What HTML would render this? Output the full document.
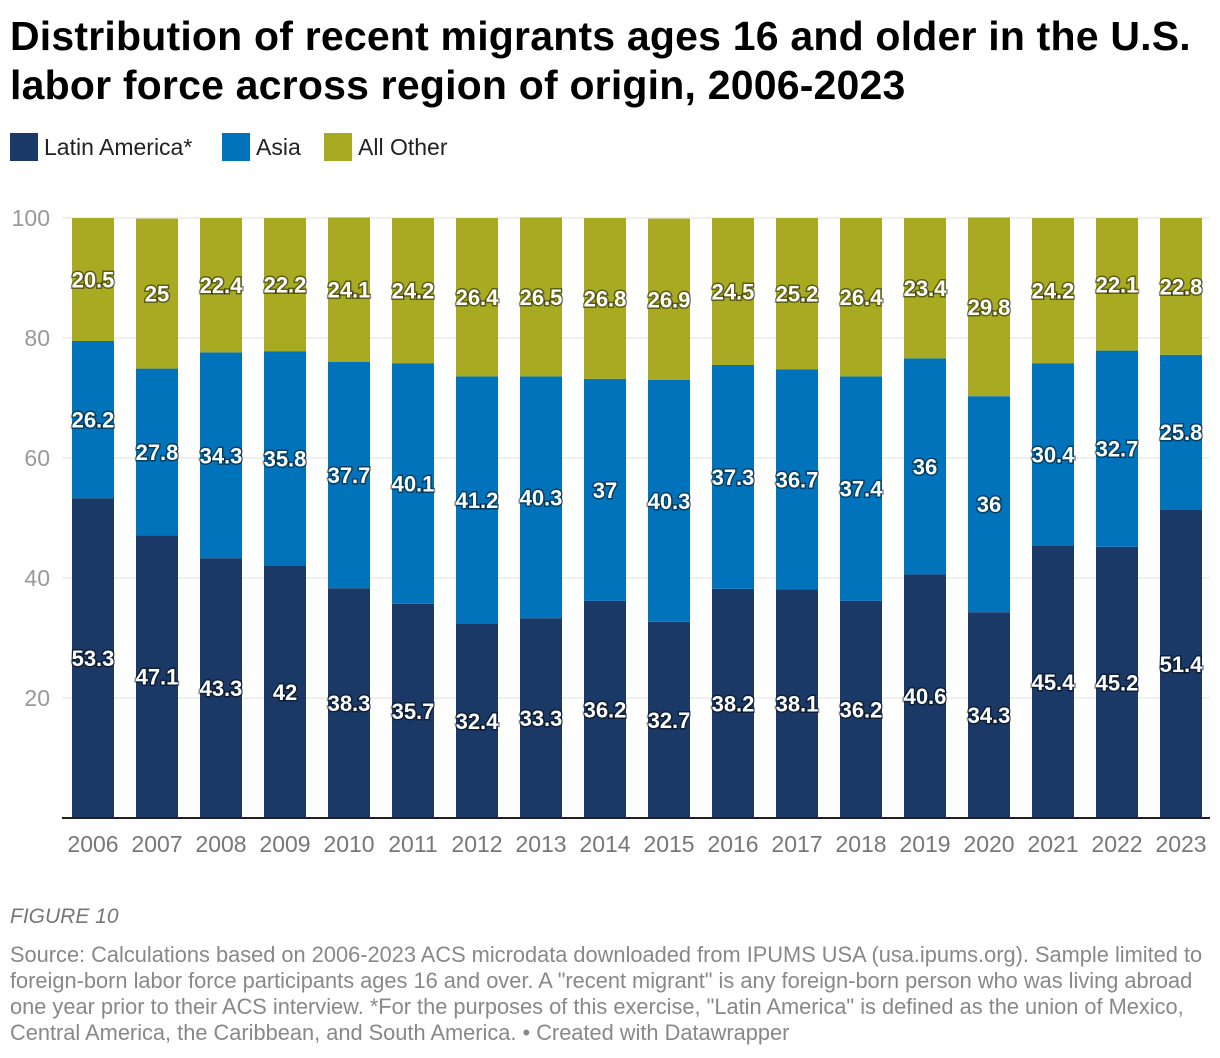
<!DOCTYPE html>
<html><head><meta charset="utf-8">
<style>
body{margin:0;background:#fff;font-family:"Liberation Sans",sans-serif;}
#wrap{position:relative;width:1220px;height:1058px;overflow:hidden;}
h1{position:absolute;left:10px;top:12px;margin:0;font-size:41px;line-height:49px;font-weight:bold;color:#000;letter-spacing:0.2px;white-space:nowrap;}
.leg{position:absolute;top:133px;font-size:23px;color:#222;display:flex;align-items:center;}
.sw{width:28px;height:28px;margin-right:6px;display:inline-block;}
.fig{position:absolute;left:10px;top:905px;font-size:21px;font-style:italic;color:#777;}
.src{position:absolute;left:10px;top:942px;width:1210px;font-size:21.8px;line-height:26px;color:#888;white-space:nowrap;}
</style></head><body>
<div id="wrap">
<h1>Distribution of recent migrants ages 16 and older in the U.S.<br>labor force across region of origin, 2006-2023</h1>
<div class="leg" style="left:10px"><span class="sw" style="background:#1b3966"></span>Latin America*</div>
<div class="leg" style="left:222px"><span class="sw" style="background:#0073bb"></span>Asia</div>
<div class="leg" style="left:324px"><span class="sw" style="background:#a8aa22"></span>All Other</div>
<svg id="chart" width="1220" height="1058" style="position:absolute;left:0;top:0"></svg>
<div class="fig">FIGURE 10</div>
<div class="src">Source: Calculations based on 2006-2023 ACS microdata downloaded from IPUMS USA (usa.ipums.org). Sample limited to<br>foreign-born labor force participants ages 16 and over. A "recent migrant" is any foreign-born person who was living abroad<br>one year prior to their ACS interview. *For the purposes of this exercise, "Latin America" is defined as the union of Mexico,<br>Central America, the Caribbean, and South America. • Created with Datawrapper</div>
</div>
<script>
const years=["2006","2007","2008","2009","2010","2011","2012","2013","2014","2015","2016","2017","2018","2019","2020","2021","2022","2023"];
const latin=[53.3,47.1,43.3,42,38.3,35.7,32.4,33.3,36.2,32.7,38.2,38.1,36.2,40.6,34.3,45.4,45.2,51.4];
const asia=[26.2,27.8,34.3,35.8,37.7,40.1,41.2,40.3,37,40.3,37.3,36.7,37.4,36,36,30.4,32.7,25.8];
const other=[20.5,25,22.4,22.2,24.1,24.2,26.4,26.5,26.8,26.9,24.5,25.2,26.4,23.4,29.8,24.2,22.1,22.8];
const yTicks=[20,40,60,80,100];
const NS="http://www.w3.org/2000/svg";
const svg=document.getElementById('chart');
const x0=62,x1=1210,yBase=818,yTop=218,step=64,bw=42,firstC=93;
const y=v=>yBase-(v/100)*(yBase-yTop);
const xc=i=>firstC+i*step;
function mk(tag,attrs){const e=document.createElementNS(NS,tag);for(const k in attrs)e.setAttribute(k,attrs[k]);svg.appendChild(e);return e;}
yTicks.forEach(t=>{
  const g=mk('line',{x1:x0,x2:x1,y1:y(t),y2:y(t),stroke:'#e0e0e0','stroke-width':1});
  
  
  const l=mk('text',{x:50,y:y(t)+8,'text-anchor':'end','font-size':23,fill:'#999','font-family':'Liberation Sans, sans-serif'});
  l.textContent=t;
  
  
});
const series=[[latin,'#1b3966','latin'],[asia,'#0073bb','asia'],[other,'#a8aa22','other']];
const labels=[];
years.forEach((yr,i)=>{
  let base=0;
  series.forEach(([arr,col,nm])=>{
    const v=arr[i];
    const r=mk('rect',{x:xc(i)-bw/2,y:y(base+v),width:bw,height:y(base)-y(base+v),fill:col});
    
    
    labels.push([xc(i),(y(base)+y(base+v))/2,v,nm,yr]);
    base+=v;
  });
  const t=mk('text',{x:xc(i),y:yBase+34,'text-anchor':'middle','font-size':23,fill:'#777','font-family':'Liberation Sans, sans-serif'});
  t.textContent=yr;
  
  
});
const ax=mk('line',{x1:x0,x2:x1,y1:yBase,y2:yBase,stroke:'#222','stroke-width':2});


labels.forEach(([cx,cy,v,nm,yr])=>{
  const t=mk('text',{x:cx,y:cy+8,'text-anchor':'middle','font-size':22,'font-weight':'bold',fill:'#fff',stroke:'rgba(0,0,0,0.45)','stroke-width':3,'paint-order':'stroke','font-family':'Liberation Sans, sans-serif'});
  t.textContent=v;
  
  
});
</script>
</body></html>
